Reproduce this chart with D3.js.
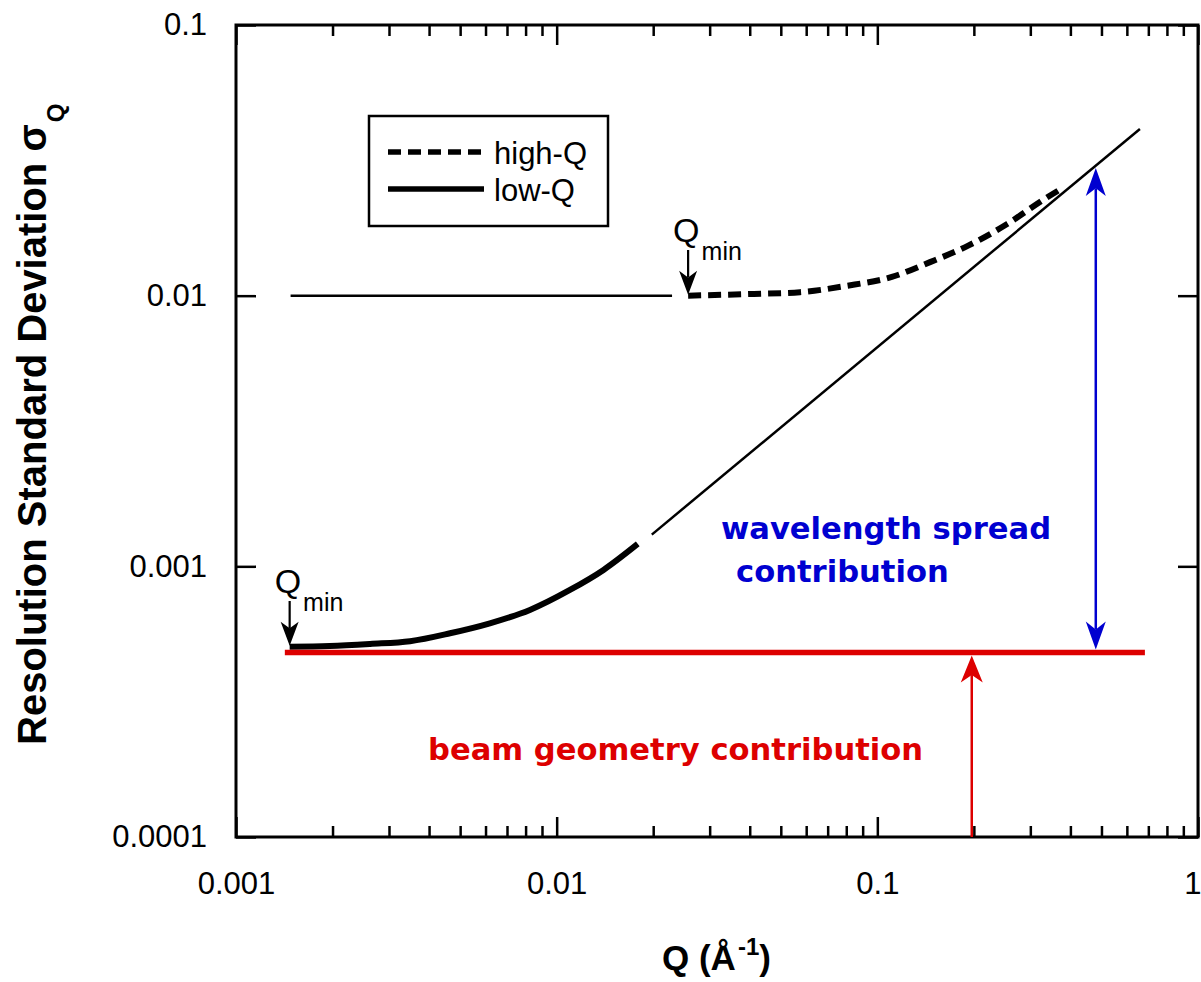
<!DOCTYPE html>
<html>
<head>
<meta charset="utf-8">
<script src="https://cdn.jsdelivr.net/npm/d3@7"></script>
<style>
  body { margin: 0; background: #fff; }
  svg text { font-family: "Liberation Sans", Arial, sans-serif; }
  .note { font-family: "DejaVu Sans", Verdana, sans-serif; font-weight: bold; }
</style>
</head>
<body>
<div id="chart"></div>
<script>
// axis decades and labels
let xMajor = [0.001, 0.01, 0.1, 1];
let yMajor = [0.0001, 0.001, 0.01, 0.1];
let xTickLabels = ["0.001", "0.01", "0.1", "1"];
let yTickLabels = ["0.0001", "0.001", "0.01", "0.1"];

// high-Q configuration (dashed)
let highQ_Q = [0.0257, 0.0412, 0.0574, 0.0798, 0.111, 0.146, 0.192, 0.254, 0.333, 0.374];
let highQ_sigma = [0.0100, 0.01015, 0.0103, 0.01086, 0.01173, 0.0133, 0.0153, 0.0184, 0.0228, 0.0248];

// low-Q configuration (solid)
let lowQ_Q = [0.00147, 0.00196, 0.00262, 0.00349, 0.00465, 0.00619, 0.00825, 0.0110, 0.0140, 0.0179];
let lowQ_sigma = [0.000505, 0.000508, 0.000517, 0.000529, 0.000566, 0.000616, 0.00069, 0.000818, 0.00097, 0.00121];

// thin guide lines
let flatLine_Q = [0.00148, 0.0229];
let flatLine_sigma = [0.01, 0.01];
let slopeLine_Q = [0.0198, 0.659];
let slopeLine_sigma = [0.00131, 0.0413];

// beam geometry contribution
let beam_Q = [0.00142, 0.683];
let beam_sigma = [0.00048, 0.00048];

// arrows
let redArrowQ = 0.197;
let blueArrowQ = 0.48;
let blueArrowTop = 0.0296;

let svgWidth = 1201;
let svgHeight = 982;

let margin = { top: 25, right: 3, bottom: 145, left: 236 };
let width = 1198 - margin.left;
let height = 837 - margin.top;

let red = "#dd0000";
let blue = "#0000d0";

let svg = d3.select("#chart")
    .append("svg")
    .attr("width", svgWidth)
    .attr("height", svgHeight);

let chartGroup = svg.append("g")
    .attr("transform", `translate(${margin.left}, ${margin.top})`);

let xScale = d3.scaleLog().domain([0.001, 1]).range([0, width]);
let yScale = d3.scaleLog().domain([0.0001, 0.1]).range([height, 0]);

let xMinor = [];
xMajor.slice(0, 3).forEach(d => { for (let k = 2; k <= 9; k++) xMinor.push(d * k); });

// axes: ticks pointing inward
function styleAxis(g) {
    g.select(".domain").remove();
    g.selectAll(".tick line").attr("stroke", "#000").attr("stroke-width", 2.5);
    g.selectAll(".tick text").attr("font-size", 31).attr("fill", "#000");
}

chartGroup.append("g")
    .attr("transform", `translate(0, ${height})`)
    .call(d3.axisBottom(xScale).tickValues(xMinor).tickSizeInner(-11).tickSizeOuter(0).tickFormat(""))
    .call(styleAxis);
let bottomMajor = chartGroup.append("g")
    .attr("transform", `translate(0, ${height})`)
    .call(d3.axisBottom(xScale).tickValues(xMajor).tickSizeInner(-20).tickSizeOuter(0)
        .tickPadding(35).tickFormat((d, i) => xTickLabels[i]))
    .call(styleAxis);
// keep the last label inside the page
bottomMajor.selectAll(".tick text").filter(d => d === 1)
    .attr("text-anchor", "end").attr("x", 3);

chartGroup.append("g")
    .call(d3.axisTop(xScale).tickValues(xMinor).tickSizeInner(-11).tickSizeOuter(0).tickFormat(""))
    .call(styleAxis);
chartGroup.append("g")
    .call(d3.axisTop(xScale).tickValues(xMajor).tickSizeInner(-20).tickSizeOuter(0).tickFormat(""))
    .call(styleAxis);

chartGroup.append("g")
    .call(d3.axisLeft(yScale).tickValues(yMajor).tickSizeInner(-20).tickSizeOuter(0)
        .tickPadding(29).tickFormat((d, i) => yTickLabels[i]))
    .call(styleAxis);
chartGroup.append("g")
    .attr("transform", `translate(${width}, 0)`)
    .call(d3.axisRight(yScale).tickValues(yMajor).tickSizeInner(-20).tickSizeOuter(0).tickFormat(""))
    .call(styleAxis);

chartGroup.append("rect")
    .attr("width", width)
    .attr("height", height)
    .attr("fill", "none")
    .attr("stroke", "#000")
    .attr("stroke-width", 3);

// lines
let line = d3.line().x(d => xScale(d[0])).y(d => yScale(d[1]));
let zip = (a, b) => a.map((v, i) => [v, b[i]]);

chartGroup.append("path")
    .attr("d", line(zip(flatLine_Q, flatLine_sigma)))
    .attr("fill", "none").attr("stroke", "#000").attr("stroke-width", 2.5);

chartGroup.append("path")
    .attr("d", line(zip(slopeLine_Q, slopeLine_sigma)))
    .attr("fill", "none").attr("stroke", "#000").attr("stroke-width", 2.5);

chartGroup.append("path")
    .attr("d", line.curve(d3.curveMonotoneX)(zip(highQ_Q, highQ_sigma)))
    .attr("fill", "none").attr("stroke", "#000").attr("stroke-width", 6)
    .attr("stroke-dasharray", "13,7");

chartGroup.append("path")
    .attr("d", line.curve(d3.curveMonotoneX)(zip(lowQ_Q, lowQ_sigma)))
    .attr("fill", "none").attr("stroke", "#000").attr("stroke-width", 6);

chartGroup.append("path")
    .attr("d", d3.line().x(d => xScale(d[0])).y(d => yScale(d[1]))(zip(beam_Q, beam_sigma)))
    .attr("fill", "none").attr("stroke", red).attr("stroke-width", 5.5);

// arrow helper: tip at (tx,ty), dir +1 points down, -1 points up
function head(tx, ty, dir, L, W) {
    let by = ty - dir * L, ny = ty - dir * L * 0.72;
    return `M${tx},${ty}L${tx - W / 2},${by}L${tx},${ny}L${tx + W / 2},${by}Z`;
}
function arrow(x, y0, y1, color, L, W, sw, both) {
    // arrow from y0 (tail) to y1 (tip)
    let dir = y1 > y0 ? 1 : -1;
    let tail = both ? y0 + dir * L * 0.72 : y0;
    chartGroup.append("line")
        .attr("x1", x).attr("x2", x)
        .attr("y1", tail).attr("y2", y1 - dir * L * 0.72)
        .attr("stroke", color).attr("stroke-width", sw);
    chartGroup.append("path").attr("d", head(x, y1, dir, L, W)).attr("fill", color);
    if (both) chartGroup.append("path").attr("d", head(x, y0, -dir, L, W)).attr("fill", color);
}

arrow(xScale(redArrowQ), height, yScale(beam_sigma[0]) + 3, red, 27, 22, 2.5, false);
arrow(xScale(blueArrowQ), yScale(blueArrowTop), yScale(beam_sigma[0]) - 3, blue, 28, 20, 2.5, true);

// Qmin markers
function qmin(q, s, top) {
    let x = xScale(q), y = yScale(s);
    arrow(x, top, y - 1, "#000", 24, 18, 2.2, false);
    let t = chartGroup.append("text").attr("x", x - 15).attr("y", top - 8).attr("font-size", 34);
    t.append("tspan").text("Q");
    t.append("tspan").attr("font-size", 25).attr("dy", 18).attr("dx", 2).text("min");
}
qmin(highQ_Q[0], highQ_sigma[0], 250 - margin.top);
qmin(lowQ_Q[0], lowQ_sigma[0], 601 - margin.top);

// annotations
svg.append("text").attr("class", "note").attr("x", 721).attr("y", 539)
    .attr("font-size", 30.6).attr("fill", blue).text("wavelength spread");
svg.append("text").attr("class", "note").attr("x", 736).attr("y", 582)
    .attr("font-size", 30.6).attr("fill", blue).text("contribution");
svg.append("text").attr("class", "note").attr("x", 428).attr("y", 760)
    .attr("font-size", 30.6).attr("fill", red).text("beam geometry contribution");

// legend
let legend = svg.append("g");
legend.append("rect")
    .attr("x", 369).attr("y", 116).attr("width", 239).attr("height", 110)
    .attr("fill", "#fff").attr("stroke", "#000").attr("stroke-width", 2.5);
legend.append("line").attr("x1", 388).attr("x2", 484).attr("y1", 152).attr("y2", 152)
    .attr("stroke", "#000").attr("stroke-width", 5.5).attr("stroke-dasharray", "13,7");
legend.append("line").attr("x1", 388).attr("x2", 484).attr("y1", 189).attr("y2", 189)
    .attr("stroke", "#000").attr("stroke-width", 5.5);
legend.append("text").attr("x", 494).attr("y", 164).attr("font-size", 31).text("high-Q");
legend.append("text").attr("x", 494).attr("y", 201).attr("font-size", 31).text("low-Q");

// axis titles
let xt = svg.append("text")
    .attr("x", 662).attr("y", 970)
    .attr("font-size", 35).attr("font-weight", "bold");
xt.append("tspan").text("Q (Å");
xt.append("tspan").attr("font-size", 24).attr("dy", -15).attr("dx", 2).text("-1");
xt.append("tspan").attr("dy", 15).text(")");

let yt = svg.append("text")
    .attr("transform", "translate(46, 745) rotate(-90)")
    .attr("font-size", 40).attr("font-weight", "bold");
yt.append("tspan").text("Resolution Standard Deviation σ");
yt.append("tspan").attr("font-size", 24).attr("dy", 18).attr("dx", 2).text("Q");
</script>
</body>
</html>
